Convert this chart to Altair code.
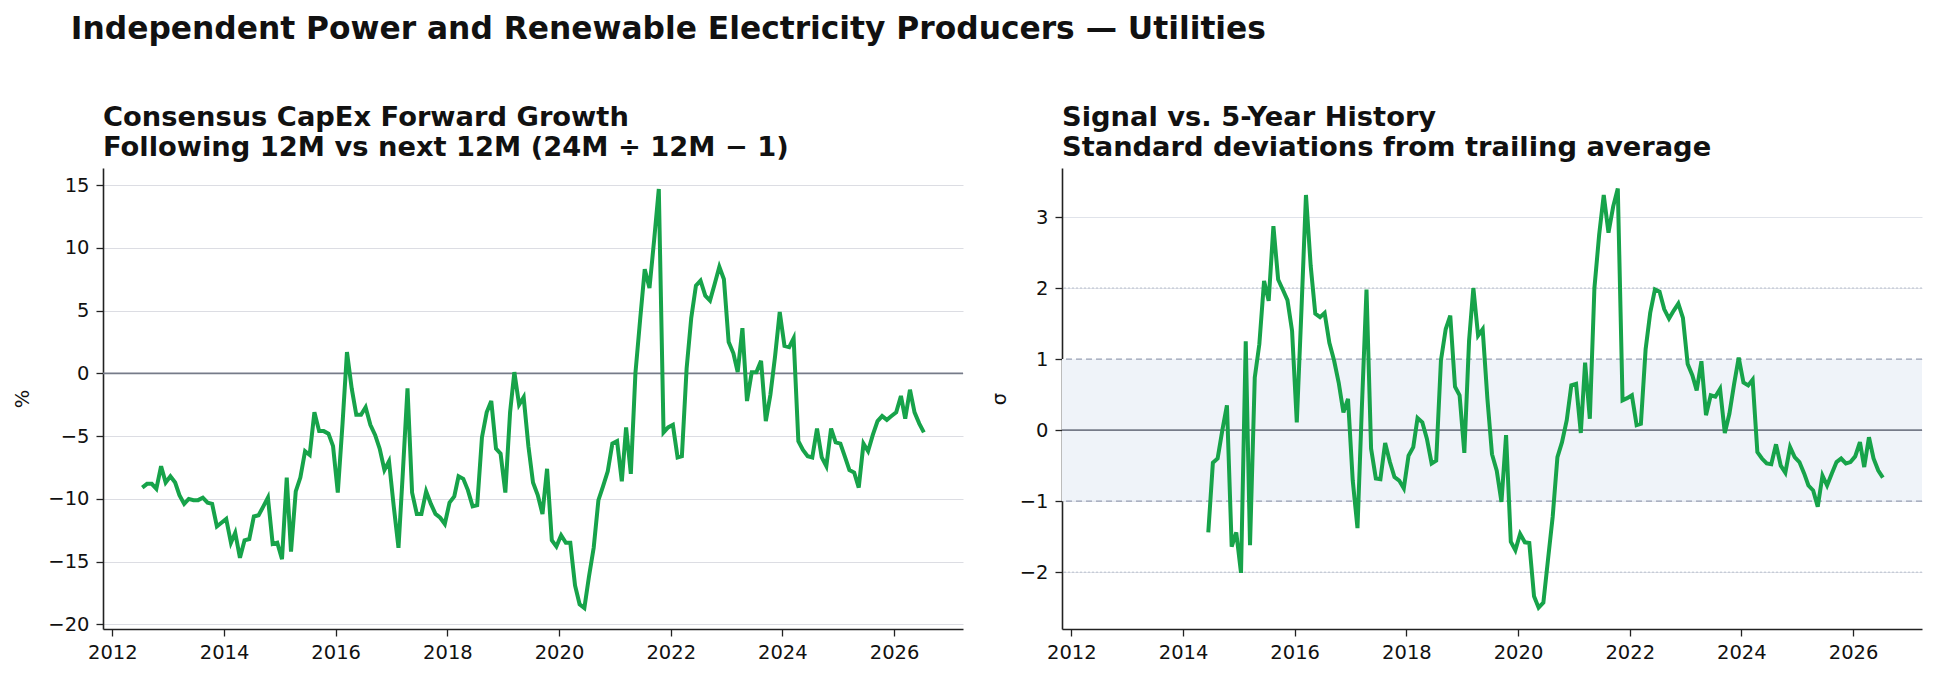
import altair as alt
import pandas as pd

# ---------------- data ----------------
# Consensus CapEx forward growth, %, monthly Jul 2012 .. Jul 2026
capex_growth = [
    -9.1, -8.8, -8.8, -9.2, -7.4, -8.7, -8.2, -8.7, -9.7, -10.4, -10.0, -10.1,
    -10.1, -9.9, -10.3, -10.4, -12.2, -11.9, -11.6, -13.5, -12.7, -14.7, -13.3, -13.2,
    -11.4, -11.3, -10.6, -9.9, -13.6, -13.5, -14.8, -8.3, -14.2, -9.4, -8.3, -6.2,
    -6.5, -3.1, -4.6, -4.6, -4.8, -5.8, -9.5, -4.0, 1.7,
    -1.2, -3.3, -3.3, -2.7, -4.1, -4.9, -6.0, -7.7, -7.0, -10.6, -13.9, -8.0,
    -1.2, -9.5, -11.2, -11.2, -9.4, -10.4, -11.2, -11.5, -12.0, -10.3, -9.8, -8.2,
    -8.4, -9.3, -10.6, -10.5, -5.1, -3.1, -2.2, -6.0, -6.4, -9.5, -3.1, 0.1,
    -2.5, -1.9, -5.8, -8.7, -9.7, -11.2, -7.6, -13.3, -13.8,
    -12.9, -13.5, -13.5, -16.9, -18.4, -18.7, -16.2, -13.9, -10.1, -9.0, -7.8, -5.6,
    -5.4, -8.6, -4.3, -8.0, 0.0, 4.3, 8.3, 6.8, 10.7, 14.7, -4.7, -4.3,
    -4.1, -6.7, -6.6, 0.4, 4.4, 7.0, 7.4, 6.2, 5.8, 7.1, 8.5, 7.5,
    2.5, 1.6, 0.1, 3.6, -2.2, 0.1, 0.1, 1.0, -3.8,
    -1.7, 1.4, 4.9, 2.2, 2.1, 2.8, -5.4, -6.1, -6.6, -6.7, -4.4, -6.7,
    -7.4, -4.4, -5.5, -5.6, -6.7, -7.7, -7.9, -9.1, -5.6, -6.2, -4.9, -3.8,
    -3.4, -3.7, -3.4, -3.1, -1.8, -3.6, -1.3, -3.1, -4.0, -4.7,
]

# Signal vs 5-year history, sigma, monthly Jun 2014 .. Jul 2026
zscore_first_index = 23
zscore = [
    -1.44, -0.46, -0.40, 0.00, 0.35, -1.64, -1.44, -2.01, 1.25, -1.62, 0.74, 1.21,
    2.10, 1.82, 2.87, 2.12, 1.98, 1.83, 1.40, 0.11, 1.72, 3.31, 2.31, 1.64,
    1.59, 1.65, 1.23, 0.98, 0.67, 0.25, 0.44, -0.71, -1.38, 0.28, 1.98, -0.26,
    -0.68, -0.69, -0.18, -0.45, -0.66, -0.71, -0.82, -0.36, -0.24, 0.17, 0.11,
    -0.12, -0.47, -0.43, 0.98, 1.42, 1.61, 0.61, 0.49, -0.32, 1.26, 2.00, 1.33,
    1.42, 0.44, -0.34, -0.57, -1.01, -0.07, -1.57, -1.69, -1.46, -1.58, -1.59, -2.34,
    -2.50, -2.43, -1.83, -1.22, -0.38, -0.17, 0.14, 0.63, 0.65, -0.04, 0.95, 0.16,
    2.00, 2.75, 3.31, 2.78, 3.15, 3.40, 0.42, 0.45, 0.49, 0.07, 0.09,
    1.14, 1.65, 1.98, 1.95, 1.70, 1.57, 1.68, 1.78, 1.58, 0.93, 0.77, 0.56,
    0.97, 0.21, 0.49, 0.47, 0.58, -0.04, 0.23, 0.65, 1.02, 0.67, 0.63, 0.71,
    -0.31, -0.40, -0.47, -0.48, -0.20, -0.50, -0.60, -0.24, -0.38, -0.45, -0.61, -0.78,
    -0.85, -1.08, -0.64, -0.78, -0.61, -0.45, -0.40, -0.47, -0.45, -0.37, -0.17, -0.52,
    -0.10, -0.40, -0.57, -0.67,
]

dates = [f"{2012 + (6 + k) // 12}-{(6 + k) % 12 + 1:02d}-15" for k in range(len(capex_growth))]

x_tick_years = [2012, 2014, 2016, 2018, 2020, 2022, 2024, 2026]
y_ticks_left = [-20, -15, -10, -5, 0, 5, 10, 15]
y_ticks_right = [-2, -1, 0, 1, 2, 3]

suptitle = "Independent Power and Renewable Electricity Producers \u2014 Utilities"
left_title = ["Consensus CapEx Forward Growth", "Following 12M vs next 12M (24M \u00f7 12M \u2212 1)"]
right_title = ["Signal vs. 5-Year History", "Standard deviations from trailing average"]

left_df = pd.DataFrame({"date": dates, "value": capex_growth})
right_df = pd.DataFrame({"date": dates[zscore_first_index:], "value": zscore})
one = pd.DataFrame({"a": [0]})

# ---------------- styling ----------------
W, H = 860, 461
FONT = "DejaVu Sans"
GREEN = "#17a34a"
INK = "#111111"

x_scale = alt.Scale(
    type="utc",
    domain=[alt.DateTime(year=2011, month=11, date=1, utc=True),
            alt.DateTime(year=2027, month=3, date=28, utc=True)],
)
x_axis = alt.Axis(
    values=[alt.DateTime(year=y, month=1, date=1, utc=True) for y in x_tick_years],
    format="%Y", grid=False, title=None,
)
x_enc = alt.X("date:T", scale=x_scale, axis=x_axis)


def panel_title(lines):
    return alt.TitleParams(
        text=lines, anchor="start", frame="group", fontSize=27.3, font=FONT,
        fontWeight="bold", color=INK, lineHeight=30, offset=7,
    )


# ---------------- left panel ----------------
yl = alt.Y(
    "value:Q",
    scale=alt.Scale(domain=[-20.37, 16.37], nice=False, zero=False),
    axis=alt.Axis(values=y_ticks_left, format="d", title="%", grid=True,
                  gridColor="#dcdde3", gridWidth=1, titlePadding=15),
)
zero_l = alt.Chart(one).mark_rule(color="#767b89", strokeWidth=1.8).encode(y=alt.datum(0))
line_l = alt.Chart(left_df).mark_line(color=GREEN, strokeWidth=4).encode(x=x_enc, y=yl)
left = alt.layer(zero_l, line_l).properties(width=W, height=H, title=panel_title(left_title))

# ---------------- right panel ----------------
yr = alt.Y(
    "value:Q",
    scale=alt.Scale(domain=[-2.80, 3.69], nice=False, zero=False),
    axis=alt.Axis(values=y_ticks_right, format="d", title="\u03c3", grid=True,
                  gridColor="#e0e3ea", gridWidth=1, titlePadding=10),
)
band = alt.Chart(one).mark_rect(color="#eff3f9").encode(
    x=alt.value(0), x2=alt.value(W), y=alt.datum(-1), y2=alt.datum(1)
)
dot_hi = alt.Chart(one).mark_rule(color="#b9c0cd", strokeWidth=1, strokeDash=[2, 2]).encode(y=alt.datum(2))
dot_lo = alt.Chart(one).mark_rule(color="#b9c0cd", strokeWidth=1, strokeDash=[2, 2]).encode(y=alt.datum(-2))
dash_hi = alt.Chart(one).mark_rule(color="#98a0b3", strokeWidth=1.4, strokeDash=[6, 4]).encode(y=alt.datum(1))
dash_lo = alt.Chart(one).mark_rule(color="#98a0b3", strokeWidth=1.4, strokeDash=[6, 4]).encode(y=alt.datum(-1))
zero_r = alt.Chart(one).mark_rule(color="#767b89", strokeWidth=1.8).encode(y=alt.datum(0))
line_r = alt.Chart(right_df).mark_line(color=GREEN, strokeWidth=4).encode(x=x_enc, y=yr)
right = alt.layer(band, dot_hi, dot_lo, dash_hi, dash_lo, zero_r, line_r).properties(
    width=W, height=H, title=panel_title(right_title)
)

chart = (
    alt.hconcat(left, right, spacing=25)
    .properties(
        title=alt.TitleParams(text=suptitle, anchor="start", fontSize=31.3, font=FONT,
                              fontWeight="bold", color=INK, dx=58, offset=58),
        padding={"left": 12, "top": 14, "right": 5, "bottom": 5},
        background="white",
    )
    .configure_view(stroke=None)
    .configure_axis(
        domainColor="#222222", domainWidth=1.6, tickColor="#222222", tickWidth=1.3,
        tickSize=7, labelFont=FONT, labelFontSize=19.5, labelColor=INK, labelPadding=7,
        titleFont=FONT, titleFontSize=19.5, titleFontWeight="normal", titleColor=INK,
    )
)

chart.save("out.html", embed_options={"renderer": "svg", "actions": False})
